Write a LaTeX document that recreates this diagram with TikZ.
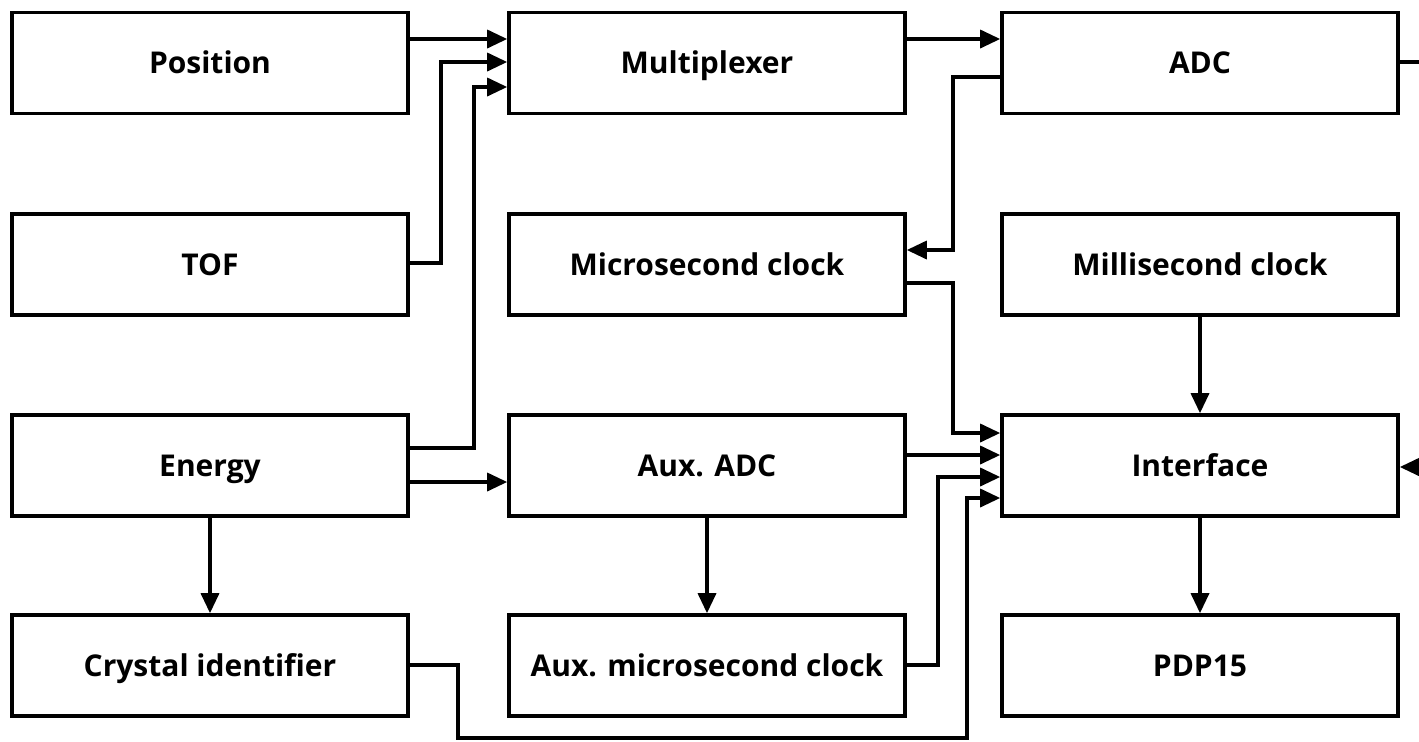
\documentclass[tikz,border=0pt]{standalone}
\usepackage{fontspec}
\setmainfont{Open Sans}
\usetikzlibrary{arrows.meta}
\begin{document}
\begin{tikzpicture}[x=0.5pt,y=-0.5pt,
  blk/.style={draw, line width=1.8pt, minimum width=198pt, minimum height=50.5pt, inner sep=0pt,
    text height=10.5pt, text depth=0pt, font=\fontsize{15}{17}\selectfont\bfseries},
  wire/.style={line width=1.7pt},
  arr/.style={wire, -{Triangle[length=10pt,width=9pt]}}]
\useasboundingbox (0,0) rectangle (1419,741);
% column 1
\node[blk] (pos) at (210,63) {Position};
\node[blk] (tof) at (210,264.5) {TOF};
\node[blk] (en)  at (210,465.5) {Energy};
\node[blk] (cry) at (210,665.5) {Crystal identifier};
% column 2
\node[blk] (mux) at (707,63) {Multiplexer};
\node[blk] (usc) at (707,264.5) {Microsecond clock};
\node[blk] (aadc) at (707,465.5) {Aux. ADC};
\node[blk] (ausc) at (707,665.5) {Aux. microsecond clock};
% column 3
\node[blk] (adc) at (1200,63) {ADC};
\node[blk] (msc) at (1200,264.5) {Millisecond clock};
\node[blk] (intf) at (1200,465.5) {Interface};
\node[blk] (pdp) at (1200,665.5) {PDP15};
\coordinate (outR) at (1419,62);
\coordinate (inR) at (1419,467);
% connectors to multiplexer
\draw[arr] (pos.east |- 0,39) -- (mux.west |- 0,39);
\draw[arr] (tof.east |- 0,263) -- (441,263) -- (441,62) -- (mux.west |- 0,62);
\draw[arr] (en.east |- 0,448) -- (474,448) -- (474,87) -- (mux.west |- 0,87);
\draw[arr] (en.east |- 0,482) -- (aadc.west |- 0,482);
\draw[arr] (en) -- (cry);
\draw[arr] (mux.east |- 0,39) -- (adc.west |- 0,39);
\draw[wire] (adc.east |- outR) -- (outR);
\draw[arr] (adc.west |- 0,77) -- (953,77) -- (953,250) -- (usc.east |- 0,250);
% to interface
\draw[arr] (usc.east |- 0,283) -- (953,283) -- (953,433) -- (intf.west |- 0,433);
\draw[arr] (aadc.east |- 0,455) -- (intf.west |- 0,455);
\draw[arr] (ausc.east |- 0,665) -- (938,665) -- (938,477) -- (intf.west |- 0,477);
\draw[arr] (cry.east |- 0,665) -- (458,665) -- (458,738) -- (967,738) -- (967,498) -- (intf.west |- 0,498);
\draw[arr] (aadc) -- (ausc);
\draw[arr] (msc) -- (intf);
\draw[arr] (intf) -- (pdp);
\draw[arr] (inR) -- (intf.east |- inR);
\end{tikzpicture}
\end{document}
